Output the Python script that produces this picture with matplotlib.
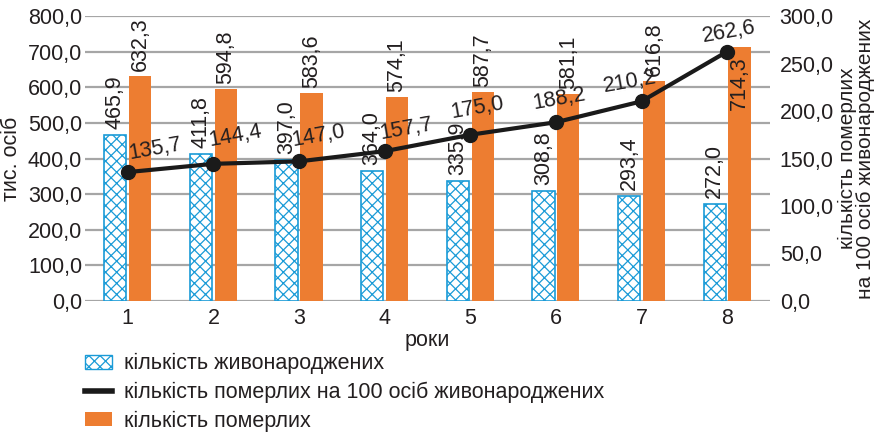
import numpy as np
import matplotlib
matplotlib.use('Agg')
import matplotlib.pyplot as plt
from matplotlib.ticker import FuncFormatter, MultipleLocator
from matplotlib.patches import Patch
from matplotlib.lines import Line2D

plt.rcParams['font.family'] = ['Liberation Sans', 'DejaVu Sans']

years = [1, 2, 3, 4, 5, 6, 7, 8]
born = [465.9, 411.8, 397.0, 364.0, 335.9, 308.8, 293.4, 272.0]
died = [632.3, 594.8, 583.6, 574.1, 587.7, 581.1, 616.8, 714.3]
died_per_100 = [135.7, 144.4, 147.0, 157.7, 175.0, 188.2, 210.2, 262.6]

BLUE = '#1a9bd7'
ORANGE = '#ed7d31'
GRID = '#a6a6a6'
TXT = '#231f20'
FS = 15.5

# label offsets for the line values (pixels), to keep them off the bars
line_dx = [27, 22, 19, 22, 7, 3, -12, 2]
line_dy = [23, 28, 25, 22, 27, 23, 19, 20]


def comma(v, pos=None):
    return f"{v:.1f}".replace('.', ',')


fig = plt.figure(figsize=(8.85, 4.34), dpi=100)
ax1 = fig.add_axes([0.096, 0.3065, 0.774, 0.6565])
ax2 = ax1.twinx()

x = np.array(years)
w = 0.26
off = 0.145
plt.rcParams['hatch.linewidth'] = 0.9
bars_b = ax1.bar(x - off, born, w, facecolor='white', edgecolor=BLUE,
                 hatch='xxx', linewidth=1.2, zorder=3)
bars_d = ax1.bar(x + off, died, w, color=ORANGE, zorder=3)

ax1.set_xlim(0.5, 8.5)
ax1.set_ylim(0, 800)
ax1.yaxis.set_major_locator(MultipleLocator(100))
ax1.yaxis.set_major_formatter(FuncFormatter(comma))
ax1.grid(axis='y', color=GRID, linewidth=1.6, zorder=0)
ax1.set_axisbelow(True)
ax1.set_xticks(x)
ax1.set_xticklabels([str(y) for y in years])
ax1.tick_params(axis='x', length=0, labelsize=FS, colors=TXT, pad=5)
ax1.tick_params(axis='y', length=0, labelsize=FS, colors=TXT, pad=2)
ax1.set_xlabel('роки', fontsize=FS, color=TXT, labelpad=1)
ax1.set_ylabel('тис. осіб', fontsize=FS, color=TXT)
ax1.yaxis.set_label_coords(-0.092, 0.5)

for rect, v in zip(bars_b, born):
    ax1.annotate(comma(v), (rect.get_x() + rect.get_width() / 2, v),
                 xytext=(0, 6), textcoords='offset pixels', rotation=90,
                 ha='center', va='bottom', fontsize=FS, color=TXT, zorder=4)
for i, (rect, v) in enumerate(zip(bars_d, died)):
    if i == len(died) - 1:
        ax1.annotate(comma(v), (rect.get_x() + rect.get_width() / 2, v),
                     xytext=(0, -10), textcoords='offset pixels', rotation=90,
                     ha='center', va='top', fontsize=FS, color=TXT, zorder=4)
    else:
        ax1.annotate(comma(v), (rect.get_x() + rect.get_width() / 2, v),
                     xytext=(0, 5), textcoords='offset pixels', rotation=90,
                     ha='center', va='bottom', fontsize=FS, color=TXT, zorder=4)

ax2.plot(x, died_per_100, color='#1a1a1a', linewidth=3, marker='o',
         markersize=10, zorder=5)
ax2.set_ylim(0, 300)
ax2.yaxis.set_major_locator(MultipleLocator(50))
ax2.yaxis.set_major_formatter(FuncFormatter(comma))
ax2.tick_params(axis='y', length=0, labelsize=FS, colors=TXT, pad=7)
ax2.set_ylabel('кількість померлих\nна 100 осіб живонароджених', fontsize=15,
               color=TXT, labelpad=3, linespacing=0.95)
for xi, v, dx, dy in zip(x, died_per_100, line_dx, line_dy):
    ax2.annotate(comma(v), (xi, v), xytext=(dx, dy), textcoords='offset pixels',
                 ha='center', va='center', rotation=10, fontsize=FS,
                 color=TXT, zorder=6)

for ax in (ax1, ax2):
    for s in ax.spines.values():
        s.set_visible(False)

handles = [
    Patch(facecolor='white', edgecolor=BLUE, hatch='xxx', linewidth=1.0),
    Line2D([0], [0], color='#1a1a1a', linewidth=4),
    Patch(facecolor=ORANGE),
]
labels = ['кількість живонароджених',
          'кількість померлих на 100 осіб живонароджених',
          'кількість померлих']
fig.legend(handles, labels, loc='lower left', bbox_to_anchor=(0.096, 0.005),
           frameon=False, fontsize=FS, handlelength=1.25, handleheight=0.6,
           handletextpad=0.55, labelspacing=0.35, borderpad=0,
           borderaxespad=0, labelcolor=TXT)

fig.savefig('out.png', dpi=100)
